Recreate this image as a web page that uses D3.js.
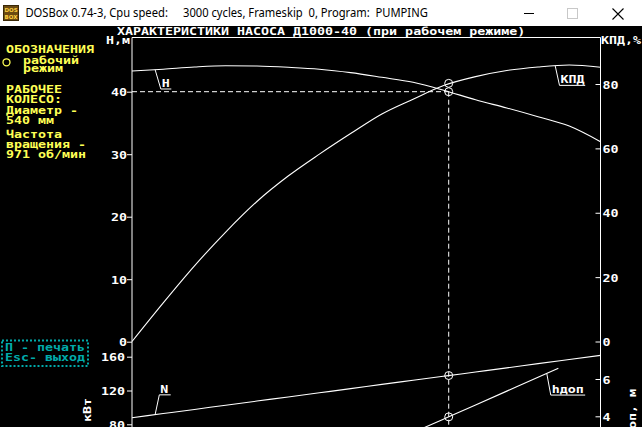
<!DOCTYPE html>
<html><head><meta charset="utf-8">
<script src="https://cdn.jsdelivr.net/npm/d3@7"></script>
<style>html,body{margin:0;padding:0;background:#000;overflow:hidden}</style>
</head><body><svg id="c" width="642" height="427"></svg>
<script>
// ---- data ----
const Q       = [0,100,200,300,400,500,600,700,800,900,1000,1100,1200,1300,1400,1500];
const headH   = [43.3,43.6,43.95,44.15,44.1,43.9,43.6,43.05,42.3,41.5,40.2,38.7,37.4,36.0,34.5,32.0];
const effKPD  = [0,12,23.5,34,43.5,51.4,58.2,64.6,70.7,75.3,79.6,82.3,84.2,85.3,85.9,85.2];
const powerN  = [87.8,92.7,97.6,102.6,107.5,112.4,117.3,122.2,127.2,132.1,137.0,141.9,146.8,151.8,156.7,161.6];
const Qh      = [800,900,1000,1100,1200,1300,1365];
const hDop    = [2.39,3.13,3.87,4.61,5.35,6.09,6.57];
const opQ = 1014, opH = 40, opKPD = 80.2, opN = 137.7, opHdop = 3.97;
const hTicks = [0,10,20,30,40];
const kpdTicks = [0,20,40,60,80];
const nTicks = [80,120,160];
const hdopTicks = [2,4,6];
const title = "ХАРАКТЕРИСТИКИ НАСОСА Д1000-40 (при рабочем режиме)";
const sideLines = ["ОБОЗНАЧЕНИЯ","рабочий","режим","РАБОЧЕЕ","КОЛЕСО:","Диаметр -","540 мм","Частота","вращения -","971 об/мин"];
const helpLines = ["П - печать","Esc- выход"];

// ---- drawing ----
const svg = d3.select("#c");
svg.append("rect").attr("width",642).attr("height",427).attr("fill","#000");
const WHITE="#ffffff", YEL="#ffff55", CYAN="#00aaaa";
const FONT="DejaVu Sans Mono";

function dos(parent,x,y,s,fill,anchor="start",rot=0){
  return parent.append("text")
    .attr("transform",`translate(${x},${y})${rot?` rotate(${rot})`:""} scale(1,0.75)`)
    .attr("font-family",FONT).attr("font-weight","bold").attr("font-size",13.3)
    .attr("fill",fill).attr("text-anchor",anchor).attr("xml:space","preserve").text(s);
}

const x  = d3.scaleLinear().domain([0,1500]).range([132,600.5]);
const yH = d3.scaleLinear().domain([0,40]).range([341.7,91.7]);
const yK = d3.scaleLinear().domain([0,80]).range([341.5,84]);
const yN = d3.scaleLinear().domain([80,160]).range([424.3,356.7]);
const yD = d3.scaleLinear().domain([4,6]).range([416.3,379]);

// frame
const X0=x(0), X1=x(1500);
svg.append("line").attr("x1",X0).attr("x2",X1).attr("y1",37.5).attr("y2",37.5).attr("stroke",WHITE);
svg.append("line").attr("x1",X0).attr("x2",X0).attr("y1",37.5).attr("y2",430).attr("stroke",WHITE);
svg.append("line").attr("x1",X1).attr("x2",X1).attr("y1",37.5).attr("y2",430).attr("stroke",WHITE);

function styleAxis(g,anchor){
  g.select(".domain").remove();
  g.selectAll("line").attr("stroke",WHITE);
  g.selectAll("text").each(function(){
    const t=d3.select(this);
    const xx=+t.attr("x")||0;
    t.attr("x",null).attr("dy",null)
     .attr("transform",`translate(${xx},4) scale(1,0.75)`)
     .attr("font-family",FONT).attr("font-weight","bold").attr("font-size",13.3)
     .attr("fill",WHITE).attr("text-anchor",anchor);
  });
  g.attr("font-size",null).attr("font-family",null);
}
svg.append("g").attr("transform",`translate(${X0},0)`)
  .call(d3.axisLeft(yH).tickValues(hTicks).tickSize(5).tickPadding(0).tickFormat(d3.format("d")))
  .call(g=>styleAxis(g,"end"));
svg.append("g").attr("transform",`translate(${X1},0)`)
  .call(d3.axisRight(yK).tickValues(kpdTicks).tickSize(-5).tickPadding(2).tickFormat(d3.format("d")))
  .call(g=>styleAxis(g,"start"));
svg.append("g").attr("transform",`translate(${X0},0)`)
  .call(d3.axisLeft(yN).tickValues(nTicks).tickSize(5).tickPadding(2).tickFormat(d3.format("d")))
  .call(g=>styleAxis(g,"end"));
svg.append("g").attr("transform",`translate(${X1},0)`)
  .call(d3.axisRight(yD).tickValues(hdopTicks).tickSize(-5).tickPadding(2).tickFormat(d3.format("d")))
  .call(g=>styleAxis(g,"start"));

// axis titles
dos(svg,106,43.5,"Н,м",WHITE);
dos(svg,601,43.5,"КПД,%",WHITE);
dos(svg,91,410,"кВт",WHITE,"middle",-90);
dos(svg,636,389,"hдоп, м",WHITE,"end",-90);

// curves
const line = (xs,ys,sy)=>d3.line().x((d,i)=>x(xs[i])).y((d,i)=>sy(ys[i])).curve(d3.curveMonotoneX)(ys);
const curves=[[Q,headH,yH],[Q,effKPD,yK],[Q,powerN,yN],[Qh,hDop,yD]];
curves.forEach(([xs,ys,sy])=>svg.append("path").attr("d",line(xs,ys,sy))
  .attr("fill","none").attr("stroke",WHITE).attr("stroke-width",1.1));

// operating point
const ox=x(opQ);
svg.append("line").attr("x1",X0).attr("x2",ox).attr("y1",yH(opH)).attr("y2",yH(opH))
  .attr("stroke",WHITE).attr("stroke-dasharray","5,3");
svg.append("line").attr("x1",ox).attr("x2",ox).attr("y1",yH(opH)).attr("y2",430)
  .attr("stroke",WHITE).attr("stroke-dasharray","5,3");
[yH(opH),yK(opKPD),yN(opN),yD(opHdop)].forEach(cy=>
  svg.append("circle").attr("cx",ox).attr("cy",cy).attr("r",4).attr("fill","none").attr("stroke",WHITE));

// leaders & labels
function at(xs,ys,q){const i=Math.max(0,d3.bisectRight(xs,q)-1);const j=Math.min(xs.length-1,i+1);
  if(i===j) return ys[i]; return ys[i]+(ys[j]-ys[i])*(q-xs[i])/(xs[j]-xs[i]);}
function leader(q,xs,ys,sy,dx,dy,ul,label){
  const px=x(q), py=sy(at(xs,ys,q));
  const qx=px+dx, qy=py+dy;
  svg.append("path").attr("d",`M${px},${py}L${qx},${qy}L${qx+ul},${qy}`)
    .attr("fill","none").attr("stroke",WHITE);
  dos(svg,qx+1,qy-2,label,WHITE);
}
leader(74,Q,headH,yH,5.7,19.3,10.5,"Н");
leader(1355,Q,effKPD,yK,4.3,19.5,25.7,"КПД");
leader(74,Q,powerN,yN,4.2,-19.8,11.4,"N");
leader(1328,Qh,hDop,yD,4,21.6,34.4,"hдоп");

// title
dos(svg,117,34.5,title,WHITE);

// side panel
const sideY=[53.3,63.5,72,93,103,114,124.3,138,148,157.5];
const sideX=[6,23,23,6,6,6,6,6,6,6];
sideLines.forEach((s,i)=>dos(svg,sideX[i],sideY[i],s,YEL));
svg.append("circle").attr("cx",6.5).attr("cy",62.3).attr("r",3.5).attr("fill","none").attr("stroke",YEL).attr("stroke-width",1.3);

// help box
svg.append("rect").attr("x",2).attr("y",340.5).attr("width",86).attr("height",25.5)
  .attr("fill","none").attr("stroke",CYAN).attr("stroke-width",2).attr("stroke-dasharray","2,2");
dos(svg,5,350.7,helpLines[0],CYAN);
dos(svg,5,361.3,helpLines[1],CYAN);

// window title bar
const tb=svg.append("g");
tb.append("rect").attr("width",642).attr("height",26).attr("fill","#fff");
tb.append("rect").attr("x",3.5).attr("y",5.5).attr("width",15).attr("height",15).attr("fill","#6b4a12").attr("stroke","#3a2806");
tb.append("text").attr("x",11).attr("y",12).attr("text-anchor","middle").attr("font-family","DejaVu Sans").attr("font-weight","bold").attr("font-size",5.5).attr("fill","#ffd040").text("DOS");
tb.append("text").attr("x",11).attr("y",18.5).attr("text-anchor","middle").attr("font-family","DejaVu Sans").attr("font-weight","bold").attr("font-size",5.5).attr("fill","#ffd040").text("BOX");
tb.append("text").attr("x",25.4).attr("y",17.3).attr("font-family","Noto Sans").attr("font-size",12.5).attr("fill","#000")
  .attr("textLength",142.5).attr("lengthAdjust","spacingAndGlyphs").text("DOSBox 0.74-3, Cpu speed:");
tb.append("text").attr("x",183).attr("y",17.3).attr("font-family","Noto Sans").attr("font-size",12.5).attr("fill","#000")
  .attr("xml:space","preserve").attr("textLength",244.8).attr("lengthAdjust","spacingAndGlyphs").text("3000 cycles, Frameskip  0, Program:  PUMPING");
tb.append("line").attr("x1",524).attr("x2",534).attr("y1",13.5).attr("y2",13.5).attr("stroke","#000");
tb.append("rect").attr("x",567.5).attr("y",8.5).attr("width",10).attr("height",10).attr("fill","none").attr("stroke","#c8c8c8");
tb.append("path").attr("d","M612.5,8.5L623.5,19.5M623.5,8.5L612.5,19.5").attr("stroke","#000").attr("stroke-width",1.1);
</script></body></html>
